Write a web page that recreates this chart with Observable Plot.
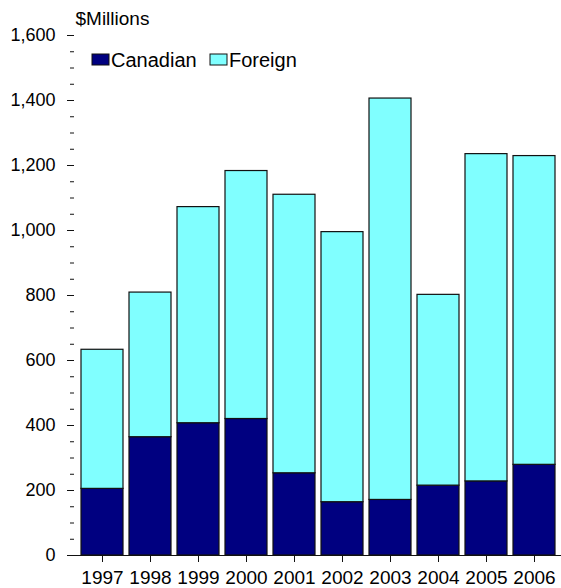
<!DOCTYPE html>
<html>
<head>
<meta charset="utf-8">
<script src="https://cdn.jsdelivr.net/npm/d3@7"></script>
<script src="https://cdn.jsdelivr.net/npm/@observablehq/plot@0.6"></script>
<style>
  html, body { margin: 0; padding: 0; background: #fff; }
  #chart svg { display: block; }
</style>
</head>
<body>
<div id="chart"></div>
<script>
// Venture capital invested, by source, $ millions
const years = ["1997", "1998", "1999", "2000", "2001", "2002", "2003", "2004", "2005", "2006"];
const canadian = [205, 364, 407, 420, 253, 164, 171, 215, 228, 279];
const foreign = [428, 445, 665, 763, 857, 831, 1235, 587, 1007, 950];
const seriesNames = ["Canadian", "Foreign"];
const seriesColors = ["#000080", "#80ffff"];
const yTicks = [0, 200, 400, 600, 800, 1000, 1200, 1400, 1600];
const yMinorTicks = d3.range(0, 1601, 50);
const unitLabel = "$Millions";

const rows = years.flatMap((year, i) => [
  {year, series: seriesNames[0], value: canadian[i]},
  {year, series: seriesNames[1], value: foreign[i]}
]);

const font = "Liberation Sans, Arial, sans-serif";

const chart = Plot.plot({
  width: 561,
  height: 588,
  marginTop: 35,
  marginBottom: 33,
  marginLeft: 74,
  marginRight: 0,
  style: {fontFamily: font, fontSize: "18px", color: "#000", background: "#fff"},
  x: {domain: years, padding: 0, label: null},
  y: {domain: [0, 1600], label: null},
  color: {domain: seriesNames, range: seriesColors},
  marks: [
    Plot.barY(rows, Plot.stackY({
      x: "year", y: "value", fill: "series", order: seriesNames,
      stroke: "#111", strokeWidth: 1.2, insetLeft: 3, insetRight: 3
    })),
    Plot.axisY({ticks: yMinorTicks, tickSize: 4, text: null, stroke: "#111", strokeOpacity: 1}),
    Plot.axisY({ticks: yTicks, tickSize: 7, tickPadding: 12, tickFormat: d3.format(","), fontSize: 18, stroke: "#111", strokeOpacity: 1}),
    Plot.axisX({tickSize: 7, tickPadding: 8, fontSize: 19, stroke: "#111", strokeOpacity: 1}),
    Plot.ruleX([0], {frameAnchor: "left", y1: 0, y2: 1600, stroke: "#111", strokeWidth: 1.2}),
    Plot.ruleY([0], {stroke: "#111", strokeWidth: 1.2}),
    Plot.text([unitLabel], {frameAnchor: "top-left", dx: 1, dy: -24, textAnchor: "start", lineAnchor: "top", fontSize: 19})
  ]
});

// Tick label sizes, set on the label groups directly
const svg = d3.select(chart);
svg.selectAll("g[aria-label='y-axis tick label']").attr("font-size", 18);
svg.selectAll("g[aria-label='x-axis tick label']").attr("font-size", 19);

// Legend drawn inside the plot frame, top-left
const legend = svg.append("g")
  .attr("font-family", font)
  .attr("font-size", 20)
  .attr("text-anchor", "start");
const legendX = [92, 210];
seriesNames.forEach((name, i) => {
  legend.append("rect")
    .attr("x", legendX[i]).attr("y", 54)
    .attr("width", 17).attr("height", 11)
    .attr("fill", seriesColors[i])
    .attr("stroke", "#111").attr("stroke-width", 1);
  legend.append("text")
    .attr("x", legendX[i] + 19).attr("y", 60)
    .attr("dy", "0.35em")
    .attr("fill", "#000")
    .text(name);
});

document.getElementById("chart").appendChild(chart);
</script>
</body>
</html>
